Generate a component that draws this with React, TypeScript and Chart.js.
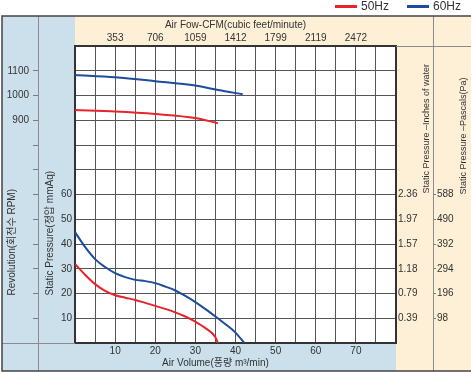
import React, { useEffect, useRef } from 'react';
import { Chart, registerables } from 'chart.js';

Chart.register(...registerables);

// ---- data ----
const seriesLabels = ['50Hz', '60Hz'];

const airVolume50 = [0, 2.5, 5, 7.5, 10, 12.5, 15, 17.5, 20, 22.5, 25, 27.5, 30, 32.5, 35, 35.6];
const pressure50 = [31.9, 27.6, 23.8, 21.1, 19.3, 18.3, 17.4, 16.2, 15.0, 13.8, 12.4, 10.7, 8.6, 6.0, 2.3, 0];

const airVolume60 = [0, 2.5, 5, 7.5, 10, 12.5, 15, 17.5, 20, 22.5, 25, 27.5, 30, 32.5, 35, 37.5, 40, 42.2];
const pressure60 = [44.8, 38.8, 33.9, 30.7, 28.2, 26.6, 25.5, 25.0, 24.2, 22.8, 21.2, 19.0, 16.5, 13.7, 10.7, 7.6, 4.2, 0];

const rpmAirVolume50 = [0, 10, 20, 30, 35.6];
const rpm50 = [941, 935, 925, 909, 888];

const rpmAirVolume60 = [0, 10, 20, 30, 35.7, 41.8];
const rpm60 = [1083, 1074, 1058, 1040, 1022, 1005];

const airTicks = [10, 20, 30, 40, 50, 60, 70];
const cfmLabels = ['353', '706', '1059', '1412', '1799', '2119', '2472'];
const pressureTicks = [10, 20, 30, 40, 50, 60];
const inchLabels = ['0.39', '0.79', '1.18', '1.57', '1.97', '2.36'];
const pascalLabels = ['98', '196', '294', '392', '490', '588'];
const rpmTicks = [900, 1000, 1100];

const topTitle = 'Air Fow-CFM(cubic feet/minute)';
const bottomTitle = 'Air Volume(풍량 m³/min)';
const rpmTitle = 'Revolution(회전수 RPM)';
const pressureTitle = 'Static Pressure(정압 mmAq)';
const inchTitle = 'Static Pressure –Inches of water';
const pascalTitle = 'Static Pressure –Pascals(Pa)';

// ---- styles ----
const RED = '#e8232b';
const BLUE = '#1c4c9c';
const BLUE_BG = '#cbe0ea';
const BEIGE_BG = '#fdf0d6';
const TEXT = '#333333';
const GRID = '#555555';
const FONT = "'Liberation Sans', Arial, 'Noto Sans CJK KR', sans-serif";
const TRANSPARENT = 'rgba(0,0,0,0)';

Chart.defaults.font.family = FONT;
Chart.defaults.color = TEXT;

const tickFont = { family: FONT, size: 10 };

const labelFor = (values: number[], labels: string[]) => (v: number | string) => {
  const i = values.indexOf(Math.round(Number(v)));
  return i >= 0 ? labels[i] : '';
};

const vText = (ctx: CanvasRenderingContext2D, text: string, cx: number, startY: number) => {
  ctx.save();
  ctx.translate(cx, startY);
  ctx.rotate(-Math.PI / 2);
  ctx.textAlign = 'left';
  ctx.textBaseline = 'middle';
  ctx.fillText(text, 0, 0);
  ctx.restore();
};

const framePlugin = {
  id: 'frame',
  beforeDraw(chart: any) {
    const { ctx, chartArea: ca, width } = chart;
    const s = chart.scales;
    const outerTop = s.xTop.top;
    const outerBottom = s.x.bottom;
    const outerLeft = s.yRpm.left;
    ctx.save();
    ctx.fillStyle = BLUE_BG;
    ctx.fillRect(outerLeft, outerTop, ca.left - outerLeft, outerBottom - outerTop);
    ctx.fillRect(ca.left, ca.bottom, ca.right - ca.left, outerBottom - ca.bottom);
    ctx.fillStyle = BEIGE_BG;
    ctx.fillRect(ca.left, outerTop, ca.right - ca.left, ca.top - outerTop);
    ctx.fillRect(ca.right, outerTop, width - ca.right, outerBottom - outerTop);
    ctx.restore();
  },
  afterDraw(chart: any) {
    const { ctx, chartArea: ca, width } = chart;
    const s = chart.scales;
    const outerTop = s.xTop.top;
    const outerBottom = s.x.bottom;
    const outerLeft = s.yRpm.left;
    ctx.save();
    // inner dividers
    ctx.strokeStyle = '#8c8c8c';
    ctx.lineWidth = 1;
    ctx.beginPath();
    ctx.moveTo(s.yRpm.right + 0.5, outerTop);
    ctx.lineTo(s.yRpm.right + 0.5, outerBottom);
    ctx.moveTo(s.yPa.left + 0.5, outerTop);
    ctx.lineTo(s.yPa.left + 0.5, outerBottom);
    ctx.moveTo(ca.right, ca.top + 0.5);
    ctx.lineTo(width, ca.top + 0.5);
    ctx.moveTo(outerLeft, ca.bottom + 0.5);
    ctx.lineTo(ca.left, ca.bottom + 0.5);
    ctx.stroke();
    // outer frame
    ctx.strokeStyle = '#444444';
    ctx.lineWidth = 1.5;
    ctx.beginPath();
    ctx.moveTo(width, outerTop);
    ctx.lineTo(outerLeft, outerTop);
    ctx.lineTo(outerLeft, outerBottom);
    ctx.lineTo(width, outerBottom);
    ctx.stroke();

    // axis titles
    ctx.fillStyle = TEXT;
    ctx.font = `10px ${FONT}`;
    const y20 = s.y.getPixelForValue(20);
    const y60 = s.y.getPixelForValue(60);
    vText(ctx, rpmTitle, s.yRpm.left + 10, y20 + 2);
    vText(ctx, pressureTitle, s.y.left + 12, y20 + 2);
    ctx.font = `9px ${FONT}`;
    vText(ctx, inchTitle, s.yIn.left + 31, y60 - 1);
    vText(ctx, pascalTitle, s.yPa.left + 31, y60);
    ctx.font = `10px ${FONT}`;
    ctx.textAlign = 'center';
    ctx.textBaseline = 'middle';
    ctx.fillText(bottomTitle, s.x.getPixelForValue(35), s.x.top + 20);

    // legend (right aligned)
    ctx.font = `12px ${FONT}`;
    ctx.textAlign = 'left';
    let right = width - 10;
    for (let i = 1; i >= 0; i--) {
      const ds = chart.data.datasets[i];
      const tw = ctx.measureText(ds.label).width;
      const tx = right - tw;
      ctx.fillStyle = TEXT;
      ctx.fillText(ds.label, tx, 7);
      ctx.fillStyle = ds.borderColor;
      ctx.fillRect(tx - 26, 5, 22, 3);
      right = tx - 26 - 18;
    }
    ctx.restore();
  },
};

const line = (label: string, xs: number[], ys: number[], color: string, axis: string) => ({
  label,
  data: xs.map((x, i) => ({ x, y: ys[i] })),
  borderColor: color,
  backgroundColor: color,
  borderWidth: 2,
  pointRadius: 0,
  fill: false,
  cubicInterpolationMode: 'monotone' as const,
  xAxisID: 'x',
  yAxisID: axis,
});

export default function App() {
  const ref = useRef<HTMLCanvasElement>(null);

  useEffect(() => {
    const canvas = ref.current;
    if (!canvas) return;
    const chart = new Chart(canvas, {
      type: 'line',
      data: {
        datasets: [
          line(seriesLabels[0], airVolume50, pressure50, RED, 'y'),
          line(seriesLabels[1], airVolume60, pressure60, BLUE, 'y'),
          line(seriesLabels[0] + ' RPM', rpmAirVolume50, rpm50, RED, 'yRpm'),
          line(seriesLabels[1] + ' RPM', rpmAirVolume60, rpm60, BLUE, 'yRpm'),
        ],
      },
      options: {
        responsive: false,
        animation: false,
        devicePixelRatio: 1,
        layout: { padding: { top: 16, left: 2, right: 0, bottom: 2 } },
        plugins: {
          legend: { display: false },
          tooltip: { enabled: false },
        },
        scales: {
          x: {
            type: 'linear',
            position: 'bottom',
            min: 0,
            max: 80,
            afterFit: (sc: any) => { sc.height = 28; },
            ticks: {
              stepSize: 5,
              autoSkip: false,
              maxRotation: 0,
              padding: 2,
              font: tickFont,
              color: TEXT,
              callback: (v: any) => (airTicks.includes(Math.round(Number(v))) ? String(Math.round(Number(v))) : ''),
            },
            grid: { color: GRID, lineWidth: 1, drawTicks: false },
            border: { display: true, color: '#333333', width: 2 },
          },
          xTop: {
            type: 'linear',
            position: 'top',
            min: 0,
            max: 80,
            afterFit: (sc: any) => { sc.height = 30; },
            ticks: {
              stepSize: 10,
              autoSkip: false,
              maxRotation: 0,
              padding: 2,
              font: tickFont,
              color: TEXT,
              callback: labelFor(airTicks, cfmLabels),
            },
            grid: { display: false, drawTicks: false },
            border: { display: true, color: '#333333', width: 2 },
            title: {
              display: true,
              text: topTitle,
              font: { family: FONT, size: 10 },
              color: TEXT,
              padding: { top: 3, bottom: 0 },
            },
          },
          y: {
            type: 'linear',
            position: 'left',
            min: 0,
            max: 120,
            weight: 0,
            afterFit: (sc: any) => { sc.width = 37; },
            ticks: {
              stepSize: 10,
              autoSkip: false,
              padding: 3,
              font: tickFont,
              color: TEXT,
              callback: (v: any) => (pressureTicks.includes(Math.round(Number(v))) ? String(Math.round(Number(v))) : ''),
            },
            grid: { color: GRID, lineWidth: 1, drawTicks: false },
            border: { display: true, color: '#333333', width: 2 },
          },
          yRpm: {
            type: 'linear',
            position: 'left',
            min: 0,
            max: 1200,
            weight: 1,
            afterFit: (sc: any) => { sc.width = 36; },
            ticks: {
              stepSize: 100,
              autoSkip: false,
              padding: 4,
              font: tickFont,
              color: TEXT,
              callback: (v: any) => (rpmTicks.includes(Math.round(Number(v))) ? String(Math.round(Number(v))) : ''),
            },
            grid: {
              drawOnChartArea: false,
              drawTicks: true,
              tickLength: 5,
              lineWidth: 1,
              color: (c: any) => (c.tick && c.tick.value > 0 && c.tick.value < 1200 ? '#7a7a7a' : TRANSPARENT),
            },
            border: { display: false },
          },
          yIn: {
            type: 'linear',
            position: 'right',
            min: 0,
            max: 120,
            weight: 0,
            afterFit: (sc: any) => { sc.width = 37; },
            ticks: {
              stepSize: 10,
              autoSkip: false,
              padding: 2,
              font: tickFont,
              color: TEXT,
              callback: labelFor(pressureTicks, inchLabels),
            },
            grid: { drawOnChartArea: false, drawTicks: false },
            border: { display: true, color: '#333333', width: 2 },
          },
          yPa: {
            type: 'linear',
            position: 'right',
            min: 0,
            max: 120,
            weight: 1,
            afterFit: (sc: any) => { sc.width = 38; },
            ticks: {
              stepSize: 10,
              autoSkip: false,
              padding: 1,
              font: tickFont,
              color: TEXT,
              callback: labelFor(pressureTicks, pascalLabels),
            },
            grid: {
              drawOnChartArea: false,
              drawTicks: true,
              tickLength: 3,
              lineWidth: 1,
              color: (c: any) => (c.tick && pressureTicks.includes(Math.round(c.tick.value)) ? '#7a7a7a' : TRANSPARENT),
            },
            border: { display: false },
          },
        },
      },
      plugins: [framePlugin],
    } as any);
    return () => chart.destroy();
  }, []);

  return (
    <div style={{ position: 'fixed', left: 0, top: 0, width: 471, height: 373, background: '#ffffff' }}>
      <canvas ref={ref} width={471} height={373} style={{ display: 'block' }} />
    </div>
  );
}
